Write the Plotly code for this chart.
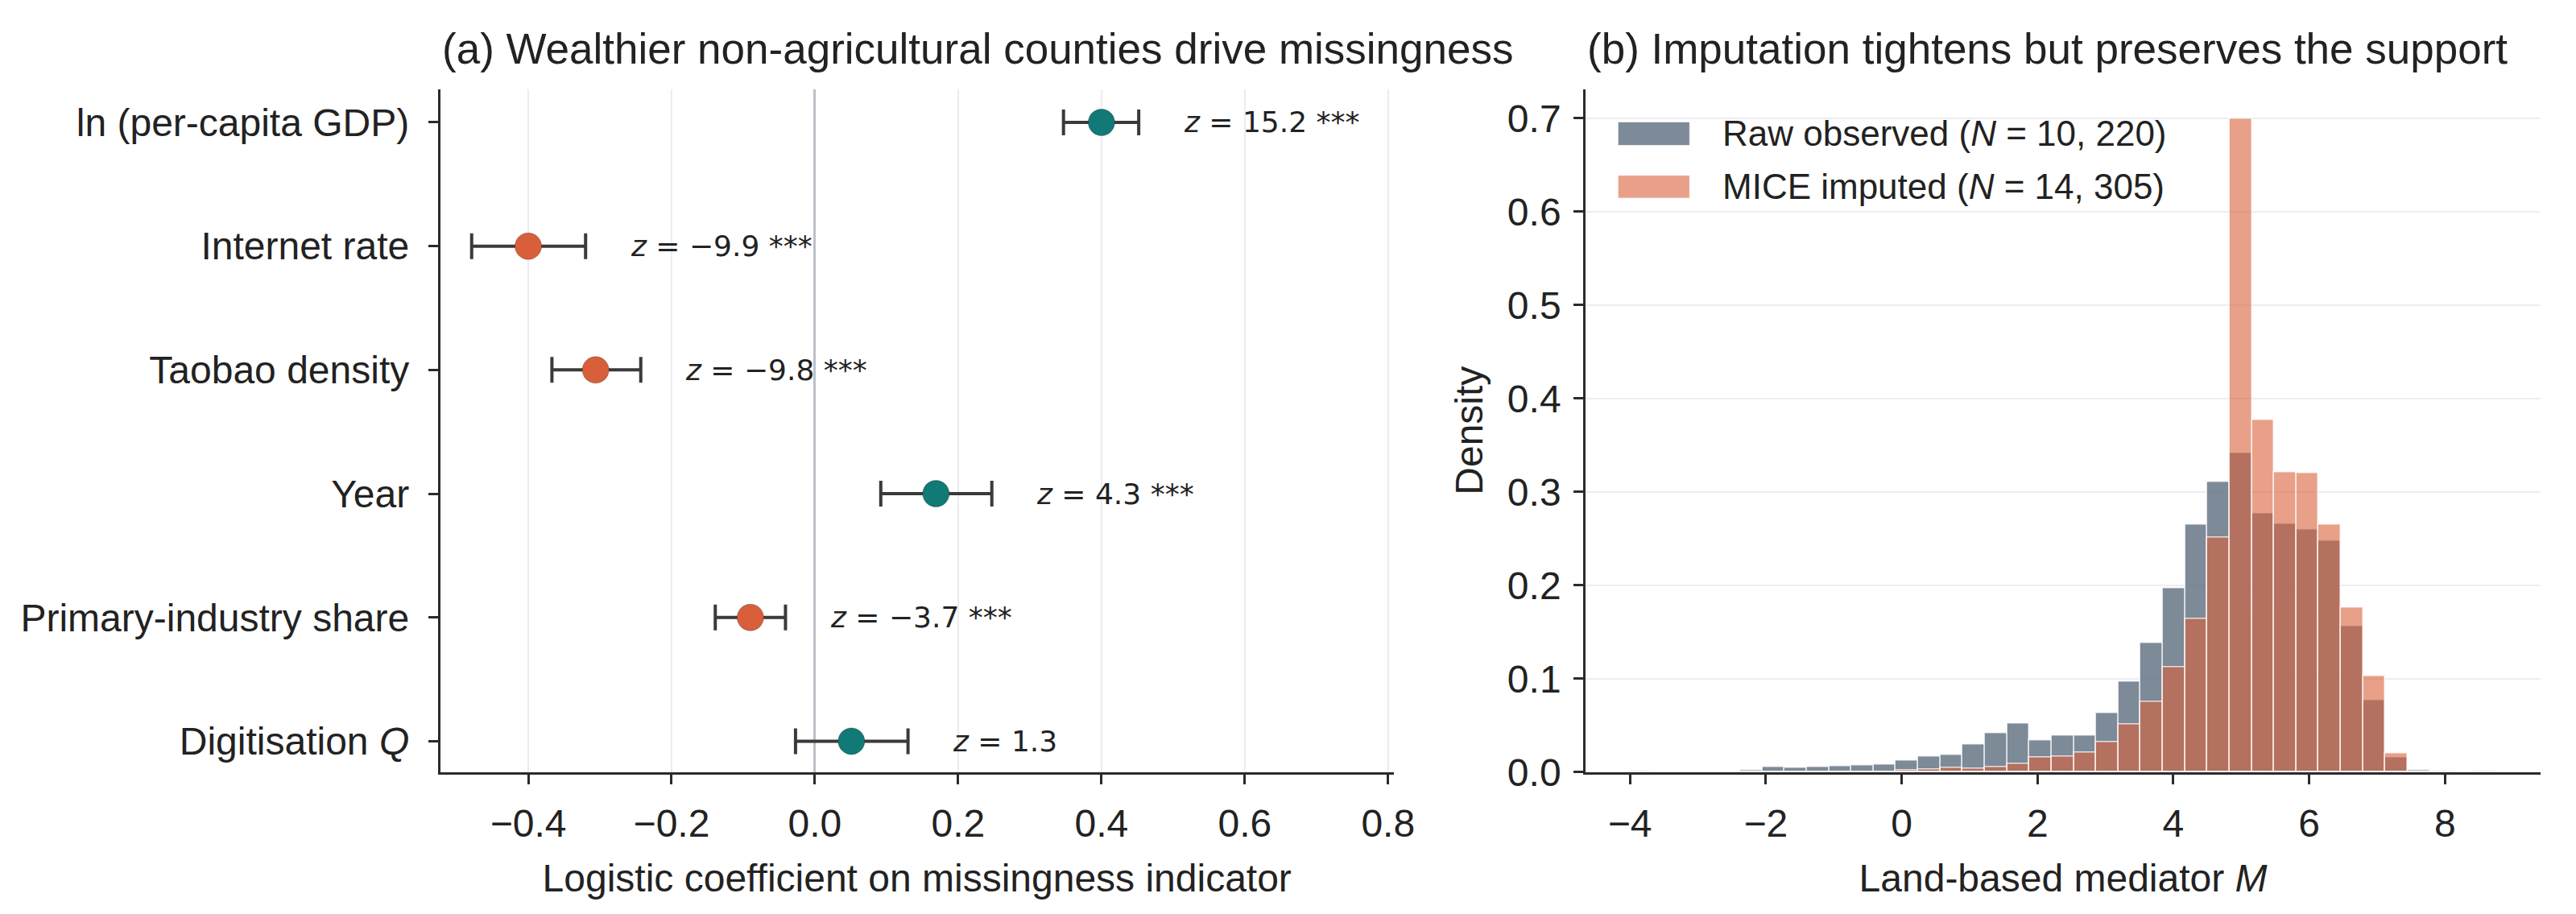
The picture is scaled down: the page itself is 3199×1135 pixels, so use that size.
import numpy as np
import plotly.graph_objects as go

# ---- panel (a): logistic model of missingness ----
predictors = ["ln (per-capita GDP)", "Internet rate", "Taobao density", "Year",
              "Primary-industry share", "Digitisation <i>Q</i>"]
coefs = [0.400, -0.400, -0.306, 0.169, -0.090, 0.051]
ci_low = [0.347, -0.479, -0.367, 0.092, -0.139, -0.027]
ci_high = [0.452, -0.320, -0.243, 0.247, -0.041, 0.130]
z_values = [15.2, -9.9, -9.8, 4.3, -3.7, 1.3]
stars = ["***", "***", "***", "***", "***", ""]

# ---- panel (b): histogram densities on shared bins ----
bin_start = -4.016
bin_width = 0.3276
raw_density = [0.0008, 0.0003, 0.0003, 0.0003, 0.0004, 0.0023, 0.0054, 0.0046,
               0.0054, 0.0063, 0.0071, 0.0080, 0.0123, 0.0165, 0.0185, 0.0300,
               0.0413, 0.0520, 0.0340, 0.0390, 0.0390, 0.0630, 0.0966, 0.1380,
               0.1970, 0.2650, 0.3110, 0.3420, 0.2770, 0.2660, 0.2600, 0.2480,
               0.1560, 0.0770, 0.0160, 0.0023, 0.0014, 0.0003, 0.0014]
imputed_density = [0.0, 0.0, 0.0, 0.0, 0.0, 0.0, 0.0003, 0.0003,
                   0.0003, 0.0003, 0.0003, 0.0006, 0.0017, 0.0030, 0.0042, 0.0040,
                   0.0056, 0.0090, 0.0154, 0.0168, 0.0210, 0.0325, 0.0510, 0.0750,
                   0.1120, 0.1640, 0.2510, 0.6990, 0.3770, 0.3210, 0.3200, 0.2650,
                   0.1760, 0.1030, 0.0200, 0.0, 0.0, 0.0006, 0.0]
legend_labels = ["Raw observed (<i>N</i> = 10, 220)", "MICE imputed (<i>N</i> = 14, 305)"]

TEAL = "#117a77"
ORANGE = "#d95f3b"
RAW_C = "rgba(93,109,126,0.8)"
IMP_C = "rgba(217,96,59,0.6)"
INK = "#222222"
SPINE = "#2b2b2b"
FONT = "Liberation Sans, Arial, sans-serif"
MATH = "DejaVu Sans, sans-serif"

W, H = 3199, 1135
dom_y = [1 - 974 / H, 1 - 105 / H]
dom_a = [543 / W, 1737 / W]
dom_b = [1977 / W, 3173 / W]

fig = go.Figure()

colors = [TEAL if c > 0 else ORANGE for c in coefs]
fig.add_trace(go.Scatter(
    x=coefs, y=predictors, mode="markers",
    marker=dict(size=33, color=colors, line=dict(color="rgba(0,0,0,0.25)", width=1)),
    error_x=dict(type="data", symmetric=False,
                 array=[h - c for h, c in zip(ci_high, coefs)],
                 arrayminus=[c - l for c, l in zip(coefs, ci_low)],
                 color="#3a3a3a", thickness=4, width=16),
    showlegend=False, xaxis="x", yaxis="y",
))

centers = bin_start + bin_width * (np.arange(len(raw_density)) + 0.5)
fig.add_trace(go.Bar(
    x=centers, y=raw_density, width=bin_width, name=legend_labels[0],
    marker=dict(color=RAW_C, line=dict(color="rgba(255,255,255,0.75)", width=1.5)),
    showlegend=False, xaxis="x2", yaxis="y2",
))
fig.add_trace(go.Bar(
    x=centers, y=imputed_density, width=bin_width, name=legend_labels[1],
    marker=dict(color=IMP_C, line=dict(color="rgba(255,255,255,0.75)", width=1.5)),
    showlegend=False, xaxis="x2", yaxis="y2",
))

annotations = []
for name, hi, z, s in zip(predictors, ci_high, z_values, stars):
    ztxt = f"{z:.1f}".replace("-", "\u2212")
    annotations.append(dict(
        x=hi + 0.06, y=name, xref="x", yref="y", xanchor="left", yanchor="middle",
        text=f"<i>z</i> = {ztxt} {s}".strip(), showarrow=False,
        font=dict(family=MATH, size=36, color=INK),
    ))

# panel titles
annotations.append(dict(x=0, y=1 - 54 / H, xref="x domain", yref="paper",
                        xanchor="left", yanchor="middle", showarrow=False,
                        text="(a) Wealthier non-agricultural counties drive missingness",
                        font=dict(family=FONT, size=53, color=INK)))
annotations.append(dict(x=0, y=1 - 54 / H, xref="x2 domain", yref="paper",
                        xanchor="left", yanchor="middle", showarrow=False,
                        text="(b) Imputation tightens but preserves the support",
                        font=dict(family=FONT, size=53, color=INK)))

# hand-drawn legend for panel (b)
shapes = []
rows = [(146.7, 177.0), (214.6, 244.0)]
for (top, bot), fill, label in zip(rows, [RAW_C, IMP_C], legend_labels):
    shapes.append(dict(type="rect", xref="paper", yref="paper",
                       x0=2017.5 / W, x1=2107.7 / W, y0=1 - bot / H, y1=1 - top / H,
                       fillcolor=fill, line=dict(color="rgba(255,255,255,0.75)", width=1.5)))
    annotations.append(dict(x=2146.5 / W, y=1 - (top + bot) / 2 / H, xref="paper", yref="paper",
                            xanchor="left", yanchor="middle", showarrow=False, text=label,
                            font=dict(family=FONT, size=44, color=INK)))

axis_common = dict(showline=True, linecolor=SPINE, linewidth=2.5, ticks="outside",
                   ticklen=12, tickwidth=2.5, tickcolor=SPINE, mirror=False,
                   tickfont=dict(family=FONT, size=48, color=INK))

fig.update_layout(
    width=W, height=H,
    margin=dict(l=0, r=0, t=0, b=0),
    paper_bgcolor="white", plot_bgcolor="white",
    font=dict(family=FONT, size=48, color=INK),
    barmode="overlay", bargap=0,
    xaxis=dict(domain=dom_a, range=[-0.523, 0.808], tickvals=[-0.4, -0.2, 0.0, 0.2, 0.4, 0.6, 0.8],
               tickformat=".1f", showgrid=True, gridcolor="#ececf1", gridwidth=2,
               zeroline=True, zerolinecolor="#bcc0c6", zerolinewidth=2.5,
               ticklabelstandoff=8,
               title=dict(text="Logistic coefficient on missingness indicator",
                          font=dict(family=FONT, size=48, color=INK), standoff=26),
               anchor="y", **axis_common),
    yaxis=dict(domain=dom_y, type="category", categoryorder="array",
               categoryarray=predictors[::-1], range=[-0.25, 5.27],
               showgrid=False, zeroline=False, ticklabelstandoff=14,
               anchor="x", **axis_common),
    xaxis2=dict(domain=dom_b, range=[-4.655, 9.41], tick0=0, dtick=2,
                showgrid=False, zeroline=False, ticklabelstandoff=8,
                title=dict(text="Land-based mediator <i>M</i>",
                           font=dict(family=FONT, size=48, color=INK), standoff=26),
                anchor="y2", **axis_common),
    yaxis2=dict(domain=dom_y, range=[0, 0.7313], dtick=0.1, tickformat=".1f",
                showgrid=True, gridcolor="#ededf2", gridwidth=2, zeroline=False,
                ticklabelstandoff=6,
                title=dict(text="Density", font=dict(family=FONT, size=48, color=INK), standoff=16),
                anchor="x2", **axis_common),
    annotations=annotations,
    shapes=shapes,
)

fig.write_html("out.html")
